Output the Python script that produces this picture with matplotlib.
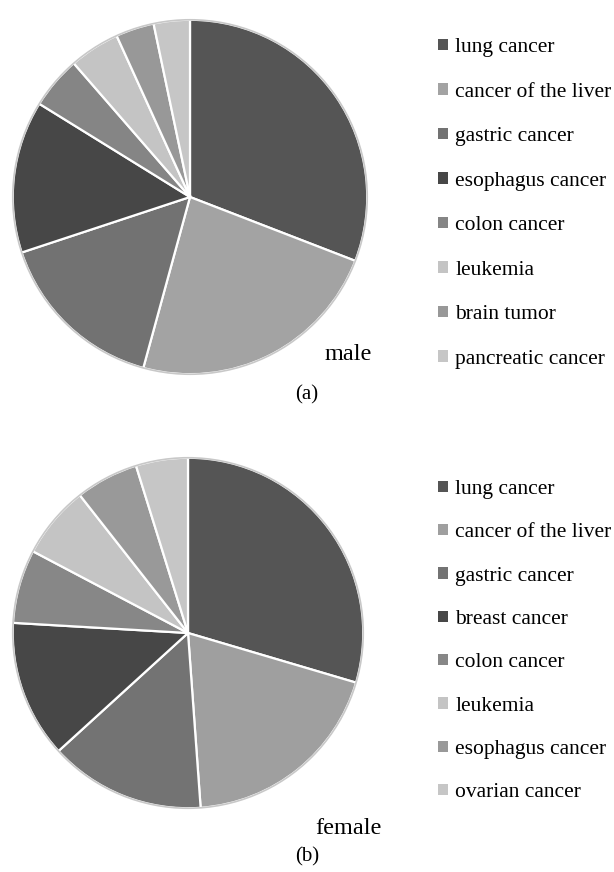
import matplotlib
matplotlib.use("Agg")
import matplotlib.pyplot as plt

plt.rcParams['font.family'] = ['Liberation Serif', 'DejaVu Serif']

# male (a)
male_labels = ['lung cancer', 'cancer of the liver', 'gastric cancer', 'esophagus cancer',
               'colon cancer', 'leukemia', 'brain tumor', 'pancreatic cancer']
male_share = [30.9, 23.4, 15.7, 13.9, 4.8, 4.6, 3.5, 3.3]
male_colors = ['#555555', '#a3a3a3', '#727272', '#474747',
               '#858585', '#c4c4c4', '#989898', '#c6c6c6']

# female (b)
female_labels = ['lung cancer', 'cancer of the liver', 'gastric cancer', 'breast cancer',
                 'colon cancer', 'leukemia', 'esophagus cancer', 'ovarian cancer']
female_share = [29.6, 19.3, 14.4, 12.7, 6.8, 6.7, 5.8, 4.8]
female_colors = ['#555555', '#9f9f9f', '#737373', '#474747',
                 '#878787', '#c4c4c4', '#999999', '#c6c6c6']

W, H = 614, 872
fig = plt.figure(figsize=(W / 100, H / 100), dpi=100, facecolor='w')


def px_axes(cx, cy, r):
    # axes box in pixel coords (y from top)
    return fig.add_axes([(cx - r) / W, (H - cy - r) / H, 2 * r / W, 2 * r / H])


def draw_pie(cx, cy, r, share, colors, labels, leg_x, leg_top, spacing):
    ax = px_axes(cx, cy, r)
    wedges, _ = ax.pie(share, colors=colors, startangle=90, counterclock=False,
                       radius=1.0,
                       wedgeprops=dict(edgecolor='white', linewidth=1.6))
    ax.add_patch(plt.Circle((0, 0), 1.0, fill=False, edgecolor='#c8c8c8', lw=1.2))
    ax.set_xlim(-1.01, 1.01)
    ax.set_ylim(-1.01, 1.01)
    ax.set_aspect('equal')
    ax.axis('off')
    leg = fig.legend(wedges, labels, loc='upper left',
                     bbox_to_anchor=(leg_x / W, 1 - leg_top / H),
                     frameon=False, fontsize=15.5, handlelength=0.45, handleheight=0.45,
                     handletextpad=0.35, labelspacing=spacing, borderaxespad=0,
                     borderpad=0)
    for h in leg.legend_handles:
        h.set_edgecolor('none')
    return ax


draw_pie(190, 197, 179, male_share, male_colors, male_labels, 438, 38, 1.185)
draw_pie(188, 633, 177, female_share, female_colors, female_labels, 438, 480, 1.13)

fig.text(325 / W, 1 - 355 / H, 'male', fontsize=17.5, va='center')
fig.text(307 / W, 1 - 395 / H, '(a)', fontsize=15, ha='center', va='center')
fig.text(315 / W, 1 - 828 / H, 'female', fontsize=17.5, va='center')
fig.text(307 / W, 1 - 857 / H, '(b)', fontsize=15, ha='center', va='center')

fig.savefig('out.png', dpi=100, facecolor='w')
